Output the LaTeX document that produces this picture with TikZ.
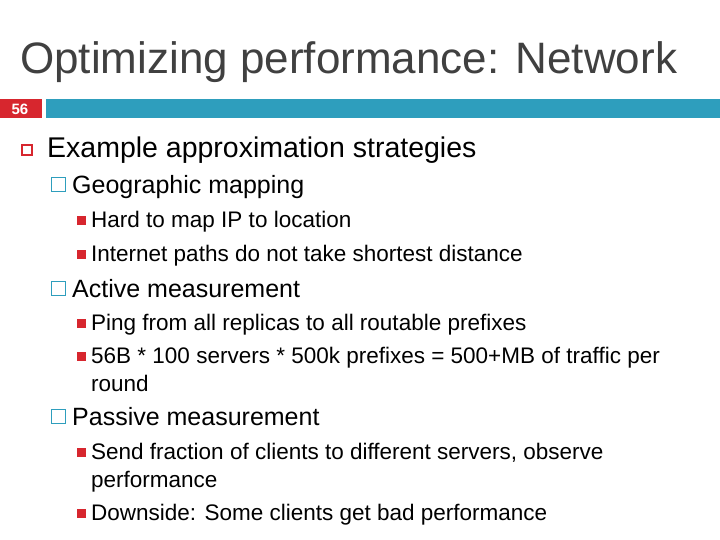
\documentclass[tikz,border=0pt]{standalone}
\usepackage{fontspec}
\setmainfont{Liberation Sans}
\definecolor{hred}{HTML}{D7262E}
\definecolor{teal}{HTML}{2E9EBD}
\begin{document}
\begin{tikzpicture}[x=1pt,y=-1pt,
 t/.style={anchor=base west,inner sep=0pt},
 b1/.style={draw=hred,line width=1.2pt,minimum size=10pt,inner sep=0pt},
 b2/.style={draw=teal,line width=1pt,minimum size=14pt,inner sep=0pt},
 b3/.style={fill=hred,minimum size=9pt,inner sep=0pt}]
\useasboundingbox (0,0) rectangle (720,540);
\node[t,font=\fontsize{44}{44}\selectfont,text=black!75] (title) at (20,74) {Optimizing performance: Network};
\fill[hred] (0,99) rectangle (42,118);
\node[text=white,font=\fontsize{15}{15}\selectfont\bfseries] (num) at (20,109) {56};
\fill[teal] (46,99) rectangle (720,118);
\node[b1] (k1) at (27,150) {};
\node[t,font=\fontsize{28.5}{28}\selectfont] (l1) at (47,158) {Example approximation strategies};
\foreach \y/\s in {194/Geographic mapping,297/Active measurement,425/Passive measurement}{
 \node[b2] at (58,\y-9) {};
 \node[t,font=\fontsize{25}{25}\selectfont] at (72,\y) {\s};}
\foreach \y/\s in {228/Hard to map IP to location,261/Internet paths do not take shortest distance,330/Ping from all replicas to all routable prefixes,363/56B * 100 servers * 500k prefixes = 500+MB of traffic per,459/{Send fraction of clients to different servers, observe},520/{Downside: Some clients get bad performance}}{
 \node[b3] at (81,\y-7) {};
 \node[t,font=\fontsize{22.5}{22}\selectfont] at (91,\y) {\s};}
\node[t,font=\fontsize{22.5}{22}\selectfont] (r) at (91,391) {round};
\node[t,font=\fontsize{22.5}{22}\selectfont] (p) at (91,487) {performance};
\end{tikzpicture}
\end{document}
